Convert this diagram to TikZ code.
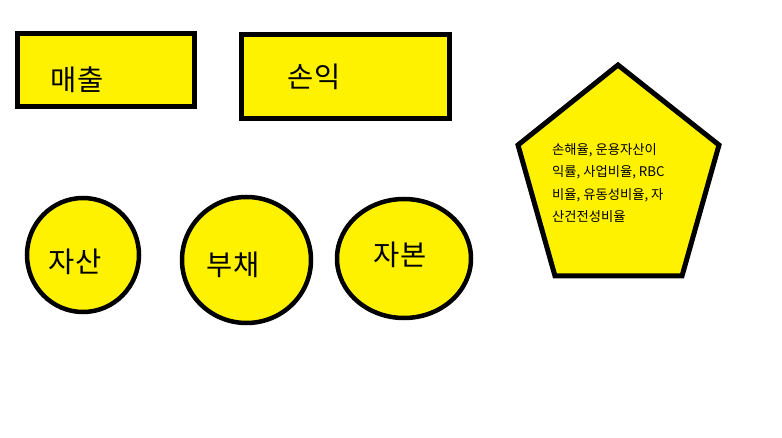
\documentclass[tikz,border=0pt]{standalone}
\usepackage{fontspec}
\setmainfont{Noto Sans CJK KR}
\definecolor{fillyel}{RGB}{255,242,0}
\begin{document}
\begin{tikzpicture}[x=1pt,y=-1pt,
  shapebox/.style={draw=black,fill=fillyel,line width=5pt},
  roundbox/.style={draw=black,fill=fillyel,line width=4.5pt},
  bigtxt/.style={font=\fontsize{28.5}{30}\selectfont,inner sep=0pt},
  smalltxt/.style={font=\fontsize{13.3}{22.5}\selectfont,inner sep=0pt,align=left,anchor=north west}]
\useasboundingbox (0,0) rectangle (782,438);
% rectangles
\draw[shapebox] (17.5,33.5) rectangle (194.5,106.5);
\node[bigtxt] (sales) at (77,80) {매출};
\draw[shapebox] (241.5,34.5) rectangle (449.5,118.5);
\node[bigtxt] (pl) at (314,77) {손익};
% circles
\draw[roundbox] (83,255) ellipse [x radius=56, y radius=57];
\node[bigtxt] (asset) at (75,262) {자산};
\draw[roundbox] (246.5,260) ellipse [x radius=64.5, y radius=63];
\node[bigtxt] (debt) at (233,265) {부채};
\draw[roundbox] (404,258.5) ellipse [x radius=67, y radius=59.5];
\node[bigtxt] (equity) at (400,255) {자본};
% pentagon
\draw[shapebox,line join=miter] (618,65) -- (719,145) -- (682,276) -- (555,276) -- (518,145) -- cycle;
\node[smalltxt] (ratios) at (552,143) {손해율, 운용자산이\\익률, 사업비율, RBC\\비율, 유동성비율, 자\\산건전성비율};
\end{tikzpicture}
\end{document}
